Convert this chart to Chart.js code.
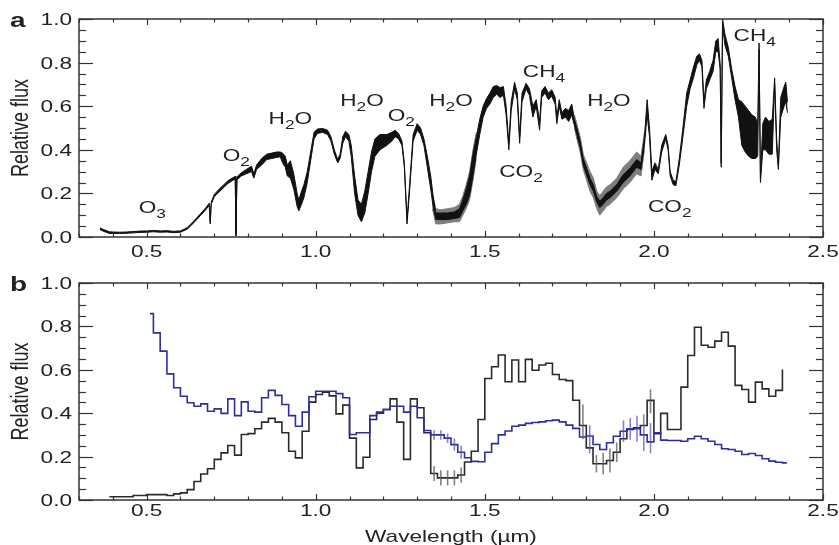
<!DOCTYPE html>
<html>
<head>
<meta charset="utf-8">
<title>Espectro</title>
<script src="https://cdn.jsdelivr.net/npm/chart.js@4.4.0/dist/chart.umd.min.js"></script>
<style>
  body { margin: 0; background: #fff; }
  #wrap { position: relative; width: 839px; height: 545px; }
  canvas { position: absolute; left: 0; }
  #chartA { top: 0; }
  #chartB { top: 262px; }
</style>
</head>
<body>
<div id="wrap">
  <canvas id="chartA" width="839" height="262"></canvas>
  <canvas id="chartB" width="839" height="283"></canvas>
</div>
<script>
// Panel a: espectro de alta resolución (envolvente baja y alta)
const specLam = [
  0.362, 0.370, 0.380, 0.390, 0.400, 0.420, 0.440, 0.460, 0.480, 0.500,
  0.520, 0.540, 0.560, 0.580, 0.600, 0.620, 0.640, 0.660, 0.675, 0.685,
  0.688, 0.691, 0.700, 0.710, 0.720, 0.730, 0.740, 0.755, 0.762, 0.764,
  0.767, 0.780, 0.795, 0.810, 0.817, 0.825, 0.840, 0.855, 0.870, 0.885,
  0.895, 0.902, 0.910, 0.916, 0.925, 0.935, 0.945, 0.950, 0.958, 0.965,
  0.975, 0.985, 0.995, 1.005, 1.020, 1.035, 1.045, 1.055, 1.065, 1.072,
  1.080, 1.088, 1.098, 1.105, 1.115, 1.125, 1.135, 1.145, 1.155, 1.165,
  1.175, 1.190, 1.210, 1.225, 1.235, 1.245, 1.255, 1.262, 1.270, 1.278,
  1.288, 1.300, 1.310, 1.320, 1.330, 1.340, 1.347, 1.355, 1.370, 1.390,
  1.410, 1.425, 1.435, 1.445, 1.455, 1.465, 1.475, 1.485, 1.495, 1.505,
  1.515, 1.525, 1.535, 1.545, 1.555, 1.563, 1.571, 1.578, 1.588, 1.596,
  1.603, 1.610, 1.622, 1.632, 1.642, 1.652, 1.662, 1.668, 1.678, 1.688,
  1.698, 1.708, 1.713, 1.720, 1.728, 1.738, 1.748, 1.757, 1.765, 1.772,
  1.782, 1.791, 1.801, 1.811, 1.821, 1.831, 1.840, 1.850, 1.860, 1.870,
  1.890, 1.909, 1.929, 1.949, 1.962, 1.972, 1.980, 1.987, 1.994, 2.003,
  2.013, 2.023, 2.035, 2.042, 2.048, 2.057, 2.065, 2.075, 2.085, 2.097,
  2.107, 2.117, 2.127, 2.135, 2.142, 2.148, 2.155, 2.165, 2.175, 2.183,
  2.190, 2.196, 2.199, 2.203, 2.210, 2.220, 2.230, 2.240, 2.250, 2.260,
  2.270, 2.280, 2.290, 2.300, 2.307, 2.311, 2.315, 2.322, 2.330, 2.340,
  2.350, 2.357, 2.363, 2.368, 2.375, 2.385, 2.390, 2.395
];
const specLo = [
  0.034, 0.028, 0.022, 0.016, 0.016, 0.016, 0.017, 0.019, 0.021, 0.022,
  0.024, 0.022, 0.023, 0.020, 0.022, 0.036, 0.066, 0.100, 0.125, 0.145,
  0.060, 0.150, 0.185, 0.200, 0.215, 0.230, 0.245, 0.260, 0.265, 0.005,
  0.262, 0.280, 0.290, 0.300, 0.270, 0.310, 0.330, 0.355, 0.360, 0.365,
  0.368, 0.340, 0.320, 0.280, 0.270, 0.220, 0.140, 0.120, 0.150, 0.180,
  0.250, 0.350, 0.450, 0.475, 0.480, 0.470, 0.440, 0.380, 0.340, 0.360,
  0.430, 0.460, 0.440, 0.370, 0.200, 0.100, 0.070, 0.110, 0.200, 0.300,
  0.370, 0.400, 0.420, 0.440, 0.460, 0.450, 0.420, 0.320, 0.060, 0.220,
  0.440, 0.490, 0.470, 0.420, 0.320, 0.220, 0.140, 0.080, 0.080, 0.080,
  0.085, 0.090, 0.120, 0.150, 0.190, 0.280, 0.380, 0.470, 0.550, 0.590,
  0.610, 0.640, 0.655, 0.640, 0.650, 0.560, 0.400, 0.580, 0.680, 0.630,
  0.430, 0.620, 0.680, 0.650, 0.550, 0.600, 0.490, 0.640, 0.660, 0.630,
  0.645, 0.610, 0.520, 0.600, 0.540, 0.550, 0.530, 0.560, 0.510, 0.470,
  0.410, 0.330, 0.285, 0.240, 0.210, 0.160, 0.135, 0.150, 0.170, 0.180,
  0.210, 0.250, 0.280, 0.320, 0.310, 0.420, 0.560, 0.460, 0.260, 0.310,
  0.290, 0.390, 0.450, 0.400, 0.280, 0.240, 0.235, 0.330, 0.450, 0.600,
  0.680, 0.730, 0.790, 0.810, 0.780, 0.590, 0.680, 0.720, 0.760, 0.850,
  0.850, 0.770, 0.320, 0.970, 0.880, 0.830, 0.730, 0.630, 0.550, 0.420,
  0.390, 0.370, 0.360, 0.360, 0.370, 0.860, 0.250, 0.400, 0.400, 0.380,
  0.380, 0.700, 0.400, 0.310, 0.550, 0.600, 0.620, 0.570
];
const specHi = [
  0.042, 0.036, 0.030, 0.024, 0.023, 0.022, 0.023, 0.025, 0.027, 0.028,
  0.030, 0.028, 0.029, 0.026, 0.028, 0.043, 0.074, 0.108, 0.134, 0.155,
  0.070, 0.160, 0.195, 0.212, 0.228, 0.242, 0.258, 0.272, 0.278, 0.020,
  0.276, 0.295, 0.310, 0.325, 0.290, 0.330, 0.360, 0.380, 0.385, 0.390,
  0.390, 0.385, 0.370, 0.330, 0.350, 0.290, 0.200, 0.170, 0.210, 0.240,
  0.300, 0.390, 0.480, 0.495, 0.498, 0.490, 0.460, 0.400, 0.355, 0.380,
  0.460, 0.485, 0.470, 0.420, 0.280, 0.170, 0.150, 0.210, 0.300, 0.390,
  0.450, 0.470, 0.470, 0.480, 0.490, 0.475, 0.440, 0.340, 0.080, 0.250,
  0.470, 0.520, 0.500, 0.450, 0.370, 0.280, 0.190, 0.110, 0.110, 0.110,
  0.115, 0.130, 0.170, 0.220, 0.280, 0.380, 0.460, 0.540, 0.600, 0.635,
  0.660, 0.690, 0.695, 0.685, 0.690, 0.600, 0.430, 0.620, 0.710, 0.660,
  0.460, 0.660, 0.705, 0.680, 0.600, 0.630, 0.530, 0.670, 0.690, 0.660,
  0.675, 0.640, 0.550, 0.630, 0.570, 0.590, 0.580, 0.610, 0.540, 0.500,
  0.440, 0.360, 0.315, 0.270, 0.240, 0.185, 0.165, 0.180, 0.200, 0.210,
  0.240, 0.285, 0.315, 0.355, 0.340, 0.460, 0.630, 0.500, 0.300, 0.340,
  0.310, 0.420, 0.470, 0.420, 0.300, 0.260, 0.255, 0.360, 0.490, 0.660,
  0.720, 0.780, 0.830, 0.840, 0.810, 0.620, 0.720, 0.760, 0.810, 0.900,
  0.910, 0.790, 0.340, 1.000, 0.930, 0.870, 0.770, 0.690, 0.630, 0.620,
  0.600, 0.580, 0.560, 0.550, 0.520, 0.890, 0.270, 0.520, 0.550, 0.530,
  0.540, 0.730, 0.450, 0.330, 0.640, 0.690, 0.710, 0.620
];
// banda gris de incertidumbre (null separa los dos tramos)
const bandLam = [
  1.345, 1.355, 1.370, 1.390, 1.410, 1.425, 1.435, 1.445, 1.455, 1.465,
  1.475, 1.600, 1.765, 1.772, 1.782, 1.791, 1.801, 1.811, 1.821, 1.831,
  1.840, 1.850, 1.860, 1.870, 1.890, 1.909, 1.929, 1.949, 1.962, 1.972
];
const bandLo = [
  0.13, 0.06, 0.06, 0.065, 0.07, 0.07, 0.10, 0.13, 0.17, 0.26,
  0.36, null, 0.50, 0.45, 0.39, 0.31, 0.26, 0.21, 0.18, 0.13,
  0.10, 0.12, 0.14, 0.15, 0.18, 0.22, 0.25, 0.29, 0.28, 0.40
];
const bandHi = [
  0.20, 0.13, 0.125, 0.13, 0.135, 0.15, 0.19, 0.24, 0.30, 0.40,
  0.48, null, 0.56, 0.52, 0.46, 0.38, 0.34, 0.30, 0.27, 0.21,
  0.19, 0.21, 0.23, 0.24, 0.27, 0.32, 0.35, 0.39, 0.37, 0.48
];

// Panel b: espectros binados (borde izquierdo de cada bin)
const blackBins = [
  0.39, 0.40, 0.42, 0.44, 0.46, 0.48, 0.50, 0.52, 0.54, 0.56,
  0.58, 0.60, 0.62, 0.64, 0.66, 0.68, 0.70, 0.72, 0.74, 0.76,
  0.78, 0.80, 0.82, 0.84, 0.86, 0.88, 0.90, 0.92, 0.94, 0.96,
  0.98, 1.00, 1.02, 1.04, 1.06, 1.08, 1.10, 1.12, 1.14, 1.16,
  1.18, 1.20, 1.22, 1.24, 1.26, 1.28, 1.30, 1.32, 1.34, 1.36,
  1.38, 1.40, 1.42, 1.44, 1.46, 1.48, 1.50, 1.52, 1.54, 1.56,
  1.58, 1.60, 1.62, 1.64, 1.66, 1.68, 1.70, 1.72, 1.74, 1.76,
  1.78, 1.80, 1.82, 1.84, 1.86, 1.88, 1.90, 1.92, 1.94, 1.96,
  1.98, 2.00, 2.02, 2.04, 2.06, 2.08, 2.10, 2.12, 2.14, 2.16,
  2.18, 2.20, 2.22, 2.24, 2.26, 2.28, 2.30, 2.32, 2.34, 2.36,
  2.38
];
const blackFlux = [
  0.015, 0.015, 0.015, 0.015, 0.021, 0.021, 0.025, 0.025, 0.025, 0.021,
  0.028, 0.033, 0.048, 0.085, 0.120, 0.144, 0.187, 0.217, 0.251, 0.207,
  0.302, 0.306, 0.328, 0.359, 0.376, 0.359, 0.310, 0.225, 0.194, 0.317,
  0.451, 0.486, 0.497, 0.480, 0.397, 0.437, 0.285, 0.148, 0.197, 0.371,
  0.400, 0.417, 0.466, 0.359, 0.187, 0.466, 0.425, 0.310, 0.122, 0.102,
  0.102, 0.102, 0.115, 0.175, 0.225, 0.371, 0.560, 0.614, 0.668, 0.545,
  0.645, 0.545, 0.648, 0.598, 0.622, 0.630, 0.578, 0.555, 0.550, 0.460,
  0.343, 0.240, 0.167, 0.167, 0.182, 0.220, 0.282, 0.325, 0.333, 0.343,
  0.459, 0.306, 0.399, 0.325, 0.325, 0.520, 0.666, 0.796, 0.713, 0.704,
  0.732, 0.773, 0.709, 0.528, 0.509, 0.451, 0.543, 0.512, 0.478, 0.505,
  0.601
];
const blueBins = [
  0.51, 0.52, 0.54, 0.56, 0.58, 0.60, 0.62, 0.64, 0.66, 0.68,
  0.70, 0.72, 0.74, 0.76, 0.78, 0.80, 0.82, 0.84, 0.86, 0.88,
  0.90, 0.92, 0.94, 0.96, 0.98, 1.00, 1.02, 1.04, 1.06, 1.08,
  1.10, 1.12, 1.14, 1.16, 1.18, 1.20, 1.22, 1.24, 1.26, 1.28,
  1.30, 1.32, 1.34, 1.36, 1.38, 1.40, 1.42, 1.44, 1.46, 1.48,
  1.50, 1.52, 1.54, 1.56, 1.58, 1.60, 1.62, 1.64, 1.66, 1.68,
  1.70, 1.72, 1.74, 1.76, 1.78, 1.80, 1.82, 1.84, 1.86, 1.88,
  1.90, 1.92, 1.94, 1.96, 1.98, 2.00, 2.02, 2.04, 2.06, 2.08,
  2.10, 2.12, 2.14, 2.16, 2.18, 2.20, 2.22, 2.24, 2.26, 2.28,
  2.30, 2.32, 2.34, 2.36, 2.38, 2.393
];
const blueFlux = [
  0.859, 0.770, 0.686, 0.581, 0.517, 0.478, 0.448, 0.432, 0.443, 0.409,
  0.420, 0.399, 0.466, 0.389, 0.452, 0.409, 0.405, 0.471, 0.505, 0.482,
  0.440, 0.389, 0.340, 0.405, 0.476, 0.501, 0.501, 0.501, 0.490, 0.471,
  0.302, 0.310, 0.310, 0.389, 0.405, 0.417, 0.432, 0.432, 0.405, 0.432,
  0.379, 0.320, 0.300, 0.300, 0.285, 0.255, 0.220, 0.195, 0.178, 0.176,
  0.220, 0.260, 0.300, 0.318, 0.340, 0.345, 0.353, 0.357, 0.360, 0.365,
  0.368, 0.360, 0.345, 0.330, 0.290, 0.295, 0.256, 0.233, 0.264, 0.294,
  0.317, 0.328, 0.328, 0.300, 0.268, 0.310, 0.276, 0.274, 0.274, 0.271,
  0.282, 0.294, 0.282, 0.271, 0.256, 0.236, 0.233, 0.225, 0.210, 0.214,
  0.205, 0.190, 0.179, 0.174, 0.171, 0.171
];

// barras de error (centro del bin, valor, semiamplitud)
const errBlackLam = [1.35, 1.37, 1.39, 1.41, 1.43, 1.79, 1.83, 1.85, 1.87, 1.89, 1.99];
const errBlackMid = [0.122, 0.102, 0.102, 0.102, 0.115, 0.36, 0.167, 0.167, 0.182, 0.22, 0.455];
const errBlackHalf = [0.035, 0.035, 0.035, 0.035, 0.035, 0.08, 0.04, 0.05, 0.055, 0.045, 0.055];
const errBlueLam = [1.35, 1.37, 1.39, 1.41, 1.43, 1.81, 1.91, 1.93, 1.95, 1.97, 1.99];
const errBlueMid = [0.30, 0.30, 0.285, 0.255, 0.22, 0.28, 0.317, 0.328, 0.328, 0.31, 0.285];
const errBlueHalf = [0.022, 0.022, 0.022, 0.028, 0.03, 0.065, 0.05, 0.05, 0.06, 0.085, 0.07];

// etiquetas de moléculas del panel a
const molNames = ['O3', 'O2', 'H2O', 'H2O', 'O2', 'H2O', 'CH4', 'CO2', 'H2O', 'CO2', 'CH4'];
const molLam = [0.517, 0.765, 0.925, 1.137, 1.253, 1.40, 1.675, 1.607, 1.867, 2.047, 2.298];
const molFlux = [0.139, 0.377, 0.547, 0.63, 0.56, 0.63, 0.76, 0.305, 0.63, 0.144, 0.928];

// ejes
const xMajor = [0.5, 1.0, 1.5, 2.0, 2.5];
const xTickLabels = ['0.5', '1.0', '1.5', '2.0', '2.5'];
const yMajor = [0.0, 0.2, 0.4, 0.6, 0.8, 1.0];
const yTickLabels = ['0.0', '0.2', '0.4', '0.6', '0.8', '1.0'];

const FONT = '"Liberation Sans", Arial, sans-serif';
const SX = 1.33; // la figura original está estirada en horizontal

function toPoints(xs, ys) {
    return xs.map((x, i) => ({ x: x, y: ys[i] }));
}

function line(ctx, x1, y1, x2, y2) {
    ctx.beginPath();
    ctx.moveTo(x1, y1);
    ctx.lineTo(x2, y2);
    ctx.stroke();
}

function drawText(ctx, txt, x, y, size, align, bold) {
    ctx.save();
    ctx.font = (bold ? 'bold ' : '') + size + 'px ' + FONT;
    ctx.translate(x, y);
    ctx.scale(SX, 1);
    ctx.textAlign = align;
    ctx.textBaseline = 'alphabetic';
    ctx.fillText(txt, 0, 0);
    ctx.restore();
}

function drawRotated(ctx, txt, x, y, size) {
    ctx.save();
    ctx.font = size + 'px ' + FONT;
    ctx.translate(x, y);
    ctx.scale(SX, 1);
    ctx.rotate(-Math.PI / 2);
    ctx.textAlign = 'center';
    ctx.textBaseline = 'alphabetic';
    ctx.fillText(txt, 0, 0);
    ctx.restore();
}

// Marco, marcas hacia dentro y textos de cada panel
const framePlugin = {
    id: 'frame',
    afterDraw(chart, args, opts) {
        const ctx = chart.ctx;
        const a = chart.chartArea;
        const x = chart.scales.x;
        const y = chart.scales.y;
        ctx.save();
        ctx.strokeStyle = '#333';
        ctx.lineWidth = 1.2;
        for (let k = 3; k <= 25; k++) {
            const px = Math.round(x.getPixelForValue(k / 10)) + 0.5;
            const len = k % 5 === 0 ? 6 : 3.5;
            line(ctx, px, a.top, px, a.top + len);
            line(ctx, px, a.bottom, px, a.bottom - len);
        }
        for (let k = 0; k <= 20; k++) {
            const py = Math.round(y.getPixelForValue(k * 0.05)) + 0.5;
            const len = k % 4 === 0 ? 14 : 7;
            line(ctx, a.left, py, a.left + len, py);
            line(ctx, a.right, py, a.right - len, py);
        }
        ctx.lineWidth = 1.5;
        ctx.strokeRect(a.left, a.top, a.right - a.left, a.bottom - a.top);

        ctx.fillStyle = '#222';
        xMajor.forEach((v, i) => {
            drawText(ctx, xTickLabels[i], x.getPixelForValue(v), a.bottom + opts.xLabelGap, 17, 'center');
        });
        yMajor.forEach((v, i) => {
            drawText(ctx, yTickLabels[i], a.left - 7, y.getPixelForValue(v) + 6, 17, 'right');
        });
        drawRotated(ctx, 'Relative flux', 28, (a.top + a.bottom) / 2, 18);
        drawText(ctx, opts.letter, 10, a.top + 8, 21, 'left', true);
        if (opts.xTitle) {
            drawText(ctx, opts.xTitle, (a.left + a.right) / 2, a.bottom + 42, 17, 'center');
        }
        ctx.restore();
    }
};

// Nombres de moléculas con subíndices
const molPlugin = {
    id: 'molecules',
    afterDatasetsDraw(chart) {
        const ctx = chart.ctx;
        const x = chart.scales.x;
        const y = chart.scales.y;
        ctx.save();
        ctx.fillStyle = '#222';
        molNames.forEach((name, i) => {
            const parts = name.split('').map(c => ({ c: c, sub: /\d/.test(c) }));
            let w = 0;
            parts.forEach(p => {
                ctx.font = (p.sub ? 13 : 17) + 'px ' + FONT;
                p.w = ctx.measureText(p.c).width * SX;
                w += p.w;
            });
            let cx = x.getPixelForValue(molLam[i]) - w / 2;
            const base = y.getPixelForValue(molFlux[i]) + 6;
            parts.forEach(p => {
                drawText(ctx, p.c, cx, base + (p.sub ? 5 : 0), p.sub ? 13 : 17, 'left');
                cx += p.w;
            });
        });
        ctx.restore();
    }
};

// Barras de error del panel b
const errPlugin = {
    id: 'errbars',
    afterDatasetsDraw(chart) {
        const ctx = chart.ctx;
        const x = chart.scales.x;
        const y = chart.scales.y;
        ctx.save();
        ctx.lineWidth = 1.6;
        ctx.strokeStyle = 'rgba(90, 90, 90, 0.75)';
        errBlackLam.forEach((l, i) => {
            const px = x.getPixelForValue(l);
            line(ctx, px, y.getPixelForValue(errBlackMid[i] - errBlackHalf[i]), px, y.getPixelForValue(errBlackMid[i] + errBlackHalf[i]));
        });
        ctx.strokeStyle = 'rgba(80, 80, 190, 0.7)';
        errBlueLam.forEach((l, i) => {
            const px = x.getPixelForValue(l);
            line(ctx, px, y.getPixelForValue(errBlueMid[i] - errBlueHalf[i]), px, y.getPixelForValue(errBlueMid[i] + errBlueHalf[i]));
        });
        ctx.restore();
    }
};

// Opciones comunes de ejes
function makeScales(xHeight) {
    return {
        x: {
            type: 'linear', min: 0.3, max: 2.5,
            ticks: { display: false }, grid: { display: false }, border: { display: false },
            afterFit: (s) => { s.height = xHeight; }
        },
        y: {
            type: 'linear', min: 0, max: 1,
            ticks: { display: false }, grid: { display: false }, border: { display: false },
            afterFit: (s) => { s.width = 79; }
        }
    };
}

const lineBase = { pointRadius: 0, tension: 0, borderWidth: 1 };

const chartA = new Chart(document.getElementById('chartA'), {
    type: 'line',
    data: {
        datasets: [
            Object.assign({ data: toPoints(specLam, specHi), borderColor: '#111', fill: false }, lineBase),
            Object.assign({ data: toPoints(specLam, specLo), borderColor: '#111', fill: '-1', backgroundColor: '#111' }, lineBase),
            Object.assign({ data: toPoints(bandLam, bandHi), borderColor: '#7d7d7d', fill: false }, lineBase),
            Object.assign({ data: toPoints(bandLam, bandLo), borderColor: '#7d7d7d', fill: '-1', backgroundColor: '#7d7d7d' }, lineBase)
        ]
    },
    options: {
        responsive: false,
        animation: false,
        events: [],
        layout: { padding: { left: 0, top: 19, right: 16, bottom: 0 } },
        scales: makeScales(25),
        plugins: {
            legend: { display: false },
            tooltip: { enabled: false },
            frame: { letter: 'a', xLabelGap: 20 }
        }
    },
    plugins: [framePlugin, molPlugin]
});

const chartB = new Chart(document.getElementById('chartB'), {
    type: 'line',
    data: {
        datasets: [
            { data: toPoints(blueBins, blueFlux), stepped: true, borderColor: '#2e2e9e', borderWidth: 1.6, pointRadius: 0, fill: false },
            { data: toPoints(blackBins, blackFlux), stepped: true, borderColor: '#2a2a2a', borderWidth: 1.6, pointRadius: 0, fill: false }
        ]
    },
    options: {
        responsive: false,
        animation: false,
        events: [],
        layout: { padding: { left: 0, top: 21, right: 16, bottom: 0 } },
        scales: makeScales(45),
        plugins: {
            legend: { display: false },
            tooltip: { enabled: false },
            frame: { letter: 'b', xLabelGap: 16, xTitle: 'Wavelength (\u00b5m)' }
        }
    },
    plugins: [framePlugin, errPlugin]
});
</script>
</body>
</html>
